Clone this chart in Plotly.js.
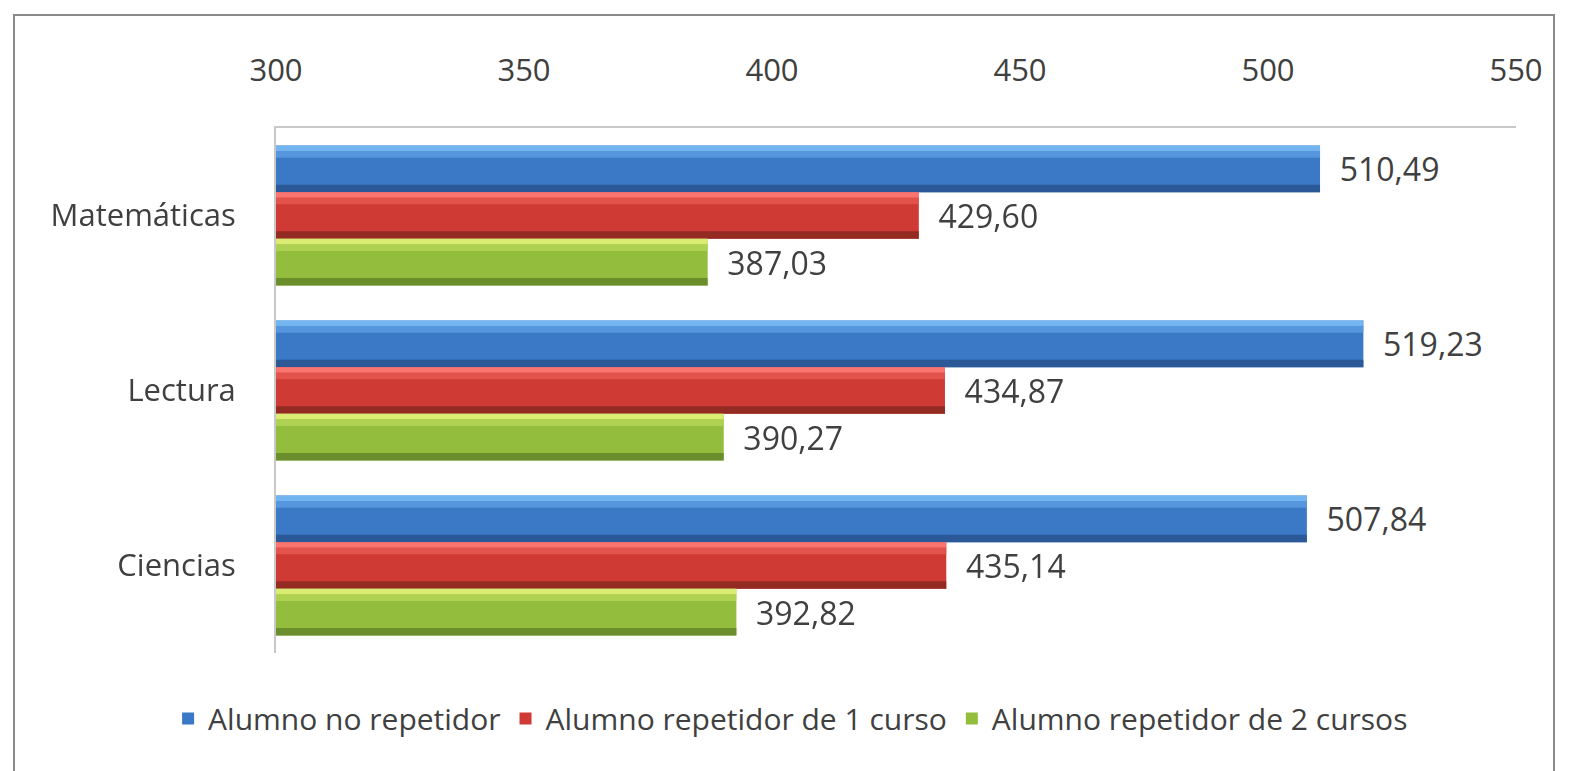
<!DOCTYPE html>
<html>
<head>
<meta charset="utf-8">
<script src="https://cdn.plot.ly/plotly-3.0.1.min.js"></script>
<style>
  html, body { margin: 0; padding: 0; background: #ffffff; }
  #wrap { position: relative; width: 1572px; height: 771px; }
  #chart { position: absolute; left: 0; top: 0; width: 1572px; height: 771px; }
  #frame { position: absolute; left: 13px; top: 14px; width: 1542px; height: 770px;
           border: 2px solid #8a8a8a; box-sizing: border-box; pointer-events: none; }
</style>
</head>
<body>
<div id="wrap">
  <div id="chart"></div>
  <div id="frame"></div>
</div>
<script>
const categories = ['Matemáticas', 'Lectura', 'Ciencias'];
const noRepetidor = [510.49, 519.23, 507.84];
const repetidor1 = [429.60, 434.87, 435.14];
const repetidor2 = [387.03, 390.27, 392.82];
const seriesNames = ['Alumno no repetidor', 'Alumno repetidor de 1 curso', 'Alumno repetidor de 2 cursos'];
const xTicks = [300, 350, 400, 450, 500, 550];

const seriesValues = [noRepetidor, repetidor1, repetidor2];
// colour styles: [body, top highlight, upper mid, bottom shadow]
const palettes = [
  ['#3b78c6', '#79bdf6', '#5a9ae0', '#2a5592'],
  ['#cf3a35', '#ff7b78', '#e5564f', '#8e2a22'],
  ['#93bd3d', '#e3f27a', '#b3d455', '#678a2c']
];
const barW = 0.8 / 3;
const traces = [];
const FONT = 'Open Sans, sans-serif';
const textFont = {family: FONT, size: 32, color: '#404040'};

seriesValues.forEach((vals, i) => {
  const off = -0.4 + i * barW;
  const p = palettes[i];
  traces.push({
    type: 'bar', orientation: 'h', name: seriesNames[i],
    y: categories, x: vals, width: barW, offset: off,
    marker: {color: p[0], line: {width: 0}},
    texttemplate: '\u00a0\u00a0%{x:.2f}', textposition: 'outside', cliponaxis: false,
    textfont: textFont, hoverinfo: 'x+name'
  });
  // shading strips (style only, same data)
  const strips = [
    [off, barW * 0.12, p[1]],
    [off + barW * 0.12, barW * 0.14, p[2]],
    [off + barW * 0.84, barW * 0.16, p[3]]
  ];
  strips.forEach(s => {
    traces.push({
      type: 'bar', orientation: 'h', y: categories, x: vals,
      width: s[1], offset: s[0], showlegend: false, hoverinfo: 'skip',
      marker: {color: s[2], line: {width: 0}}, opacity: 0.9
    });
  });
});

const layout = {
  width: 1572, height: 771,
  margin: {l: 276, r: 56, t: 128, b: 118},
  paper_bgcolor: '#ffffff', plot_bgcolor: '#ffffff',
  barmode: 'overlay',
  separators: ',.',
  font: {family: FONT, size: 31, color: '#404040'},
  xaxis: {
    side: 'top', range: [300, 550], tickvals: xTicks,
    showgrid: false, zeroline: false,
    showline: true, linecolor: '#c8c8c8', linewidth: 2,
    ticks: 'outside', ticklen: 33, tickcolor: 'rgba(0,0,0,0)',
    tickfont: {family: FONT, size: 31, color: '#404040'},
    fixedrange: true
  },
  yaxis: {
    type: 'category', autorange: 'reversed',
    showgrid: false, zeroline: false,
    showline: true, linecolor: '#c8c8c8', linewidth: 2,
    ticks: 'outside', ticklen: 32, tickcolor: 'rgba(0,0,0,0)',
    tickfont: {family: FONT, size: 31, color: '#404040'},
    fixedrange: true
  },
  showlegend: true,
  legend: {
    orientation: 'h', x: 0.415, xanchor: 'center', y: -0.075, yanchor: 'top',
    font: {family: FONT, size: 30, color: '#404040'},
    itemwidth: 30, tracegroupgap: 0
  }
};

Plotly.newPlot('chart', traces, layout, {displayModeBar: false, staticPlot: true});
</script>
</body>
</html>
